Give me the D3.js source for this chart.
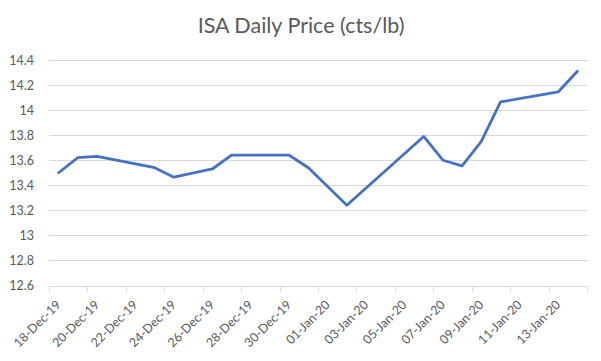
<!DOCTYPE html>
<html>
<head>
<meta charset="utf-8">
<script src="https://cdn.jsdelivr.net/npm/d3@7"></script>
<style>
  body { margin: 0; background: #fff; }
  svg { display: block; }
</style>
</head>
<body>
<script>
const width = 601;
const height = 361;

// trading days (weekends / holidays skipped)
const dates = [
  "2019-12-18", "2019-12-19", "2019-12-20", "2019-12-23", "2019-12-24",
  "2019-12-26", "2019-12-27", "2019-12-30", "2019-12-31", "2020-01-02",
  "2020-01-06", "2020-01-07", "2020-01-08", "2020-01-09", "2020-01-10",
  "2020-01-13", "2020-01-14"
];
const prices = [
  13.50, 13.62, 13.63, 13.54, 13.465,
  13.53, 13.64, 13.64, 13.54, 13.24,
  13.79, 13.60, 13.555, 13.75, 14.065,
  14.145, 14.31
];
const yTicks = [12.6, 12.8, 13, 13.2, 13.4, 13.6, 13.8, 14, 14.2, 14.4];
const axisStart = "2019-12-18";
const axisEnd = "2020-01-15";

const font = "Lato, 'Open Sans', Arial, sans-serif";
const textColor = "#595959";
const gridColor = "#d9d9d9";

const parse = d3.utcParse("%Y-%m-%d");
const fmt = d3.utcFormat("%d-%b-%y");
const DAY = 864e5;

const svg = d3.select("body").append("svg")
  .attr("width", width)
  .attr("height", height);

svg.append("text")
  .attr("x", 301)
  .attr("y", 33)
  .attr("text-anchor", "middle")
  .attr("fill", textColor)
  .attr("font-family", font)
  .attr("font-size", 21.5)
  .text("ISA Daily Price (cts/lb)");

const x = d3.scaleUtc()
  .domain([parse(axisStart), parse(axisEnd)])
  .range([49, 587]);

const y = d3.scaleLinear()
  .domain([12.6, 14.4])
  .range([285.5, 60]);

// gridlines
svg.append("g")
  .selectAll("line")
  .data(yTicks.slice(1))
  .join("line")
  .attr("x1", x.range()[0])
  .attr("x2", x.range()[1])
  .attr("y1", (d) => Math.round(y(d)) + 0.5)
  .attr("y2", (d) => Math.round(y(d)) + 0.5)
  .attr("stroke", gridColor)
  .attr("stroke-width", 1);

// y labels
svg.append("g")
  .selectAll("text")
  .data(yTicks)
  .join("text")
  .attr("x", 34)
  .attr("y", (d) => y(d) + 4.5)
  .attr("text-anchor", "end")
  .attr("fill", textColor)
  .attr("font-family", font)
  .attr("font-size", 12.5)
  .text((d) => d3.format("~g")(d));

// x axis line and tick marks, every second day from the axis start
const xTicks = d3.utcDay
  .range(parse(axisStart), new Date(parse(axisEnd).getTime() + 1))
  .filter((d, i) => i % 2 === 0);
const xAxis = svg.append("g");
xAxis.append("line")
  .attr("x1", x.range()[0])
  .attr("x2", x.range()[1])
  .attr("y1", Math.round(y(12.6)) + 0.5)
  .attr("y2", Math.round(y(12.6)) + 0.5)
  .attr("stroke", gridColor);
xAxis.selectAll("line.tick")
  .data(xTicks)
  .join("line")
  .attr("class", "tick")
  .attr("x1", (d) => Math.round(x(d)) + 0.5)
  .attr("x2", (d) => Math.round(x(d)) + 0.5)
  .attr("y1", Math.round(y(12.6)) + 0.5)
  .attr("y2", Math.round(y(12.6)) + 5.5)
  .attr("stroke", gridColor);

// x labels, centred on their day slot, rotated
xAxis.selectAll("text")
  .data(xTicks.filter((d) => d < parse(axisEnd)))
  .join("text")
  .attr("transform", (d) => `translate(${x(new Date(d.getTime() + DAY / 2)) + 3},${y(12.6) + 20}) rotate(-45)`)
  .attr("text-anchor", "end")
  .attr("fill", textColor)
  .attr("font-family", font)
  .attr("font-size", 12.5)
  .text((d) => fmt(d));

// price line
const points = dates.map((d, i) => [new Date(parse(d).getTime() + DAY / 2), prices[i]]);
svg.append("path")
  .datum(points)
  .attr("fill", "none")
  .attr("stroke", "#4472c4")
  .attr("stroke-width", 2.8)
  .attr("stroke-linejoin", "round")
  .attr("stroke-linecap", "round")
  .attr("d", d3.line().x((d) => x(d[0])).y((d) => y(d[1])));
</script>
</body>
</html>
